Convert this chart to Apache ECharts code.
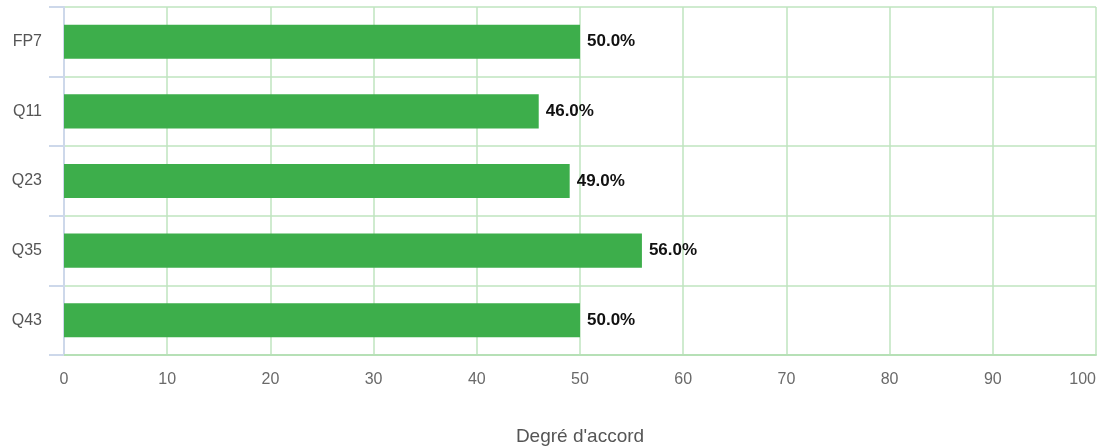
<!DOCTYPE html>
<html>
<head>
<meta charset="utf-8">
<script src="https://cdn.jsdelivr.net/npm/echarts@6/dist/echarts.min.js"></script>
<style>html,body{margin:0;padding:0;background:#fff}#c{width:1100px;height:446px}</style>
</head>
<body>
<div id="c"></div>
<script>
const categories = ["FP7", "Q11", "Q23", "Q35", "Q43"];
const values = [50.0, 46.0, 49.0, 56.0, 50.0];
const xTicks = [0, 10, 20, 30, 40, 50, 60, 70, 80, 90, 100];
const axisTitle = "Degré d'accord";

const FONT = 'Liberation Sans, Arial, sans-serif';
const chart = echarts.init(document.getElementById('c'), null, {renderer: 'canvas'});
chart.setOption({
  animation: false,
  grid: {left: 64, right: 4, top: 7, bottom: 91, containLabel: false, outerBoundsMode: 'none'},
  xAxis: {
    type: 'value', min: xTicks[0], max: xTicks[xTicks.length - 1], interval: 10,
    name: axisTitle, nameLocation: 'middle', nameGap: 72,
    nameTextStyle: {color: '#555', fontSize: 19, fontFamily: FONT, verticalAlign: 'top'},
    axisLine: {show: true, lineStyle: {color: '#b6e0b6', width: 2}},
    axisTick: {show: false},
    axisLabel: {color: '#6a6a6a', fontSize: 16, margin: 17, fontFamily: FONT,
      alignMaxLabel: 'right'},
    splitLine: {show: true, lineStyle: {color: '#bfe5bf', width: 1.5}}
  },
  yAxis: {
    type: 'category', data: categories, inverse: true,
    axisLine: {show: true, lineStyle: {color: '#cdd8ea', width: 2}},
    axisTick: {show: true, length: 15, lineStyle: {color: '#cdd8ea', width: 2}},
    axisLabel: {color: '#555', fontSize: 16, margin: 22, fontFamily: FONT},
    splitLine: {show: true, lineStyle: {color: '#bfe5bf', width: 1.5}}
  },
  series: [{
    type: 'bar', data: values, barWidth: '49%',
    itemStyle: {color: '#3dae4b'},
    label: {show: true, position: 'right', distance: 7, color: '#111', fontWeight: 'bold', fontSize: 17,
      fontFamily: FONT,
      formatter: p => p.value.toFixed(1) + '%'}
  }]
});
</script>
</body>
</html>
